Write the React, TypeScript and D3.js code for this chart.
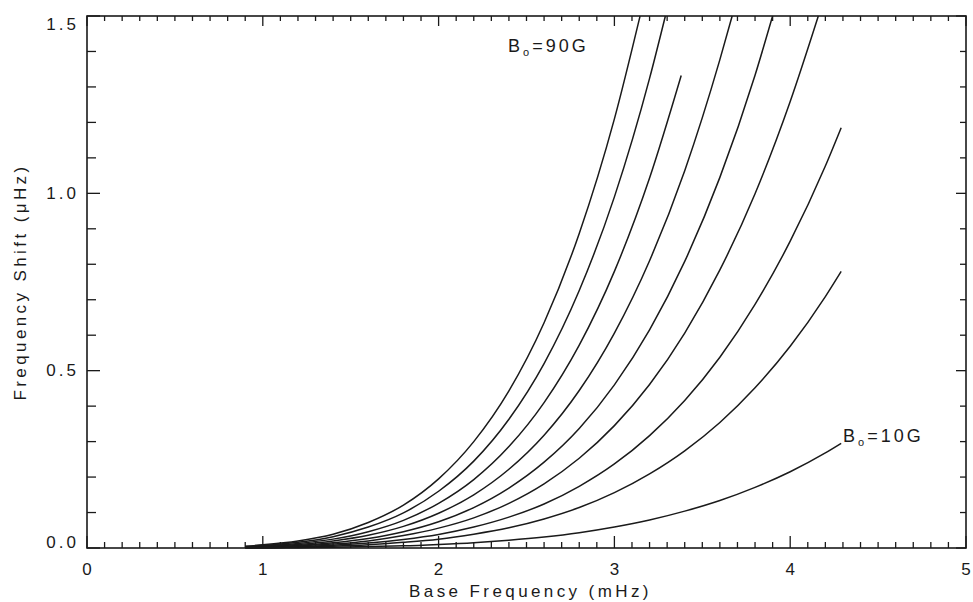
import React from "react";
import * as d3 from "d3";

const fieldLabels = ["90G", "80G", "70G", "60G", "50G", "40G", "30G", "20G", "10G"];
const freqGrid = [0.9, 1.0, 1.2, 1.4, 1.6, 1.8, 2.0, 2.2, 2.4, 2.6, 2.8, 3.0, 3.2, 3.4, 3.6, 3.8, 4.0, 4.2];

const shift90 = [0.005, 0.009, 0.02, 0.039, 0.072, 0.121, 0.195, 0.3, 0.443, 0.635, 0.887, 1.21];
const shift80 = [0.004, 0.007, 0.016, 0.032, 0.059, 0.099, 0.16, 0.245, 0.363, 0.52, 0.726, 0.99, 1.324];
const shift70 = [0.003, 0.006, 0.013, 0.025, 0.046, 0.078, 0.126, 0.193, 0.286, 0.41, 0.572, 0.78, 1.043];
const shift60 = [0.003, 0.004, 0.01, 0.02, 0.036, 0.061, 0.098, 0.15, 0.222, 0.318, 0.444, 0.606, 0.81, 1.064, 1.377];
const shift50 = [0.002, 0.003, 0.007, 0.015, 0.027, 0.046, 0.074, 0.114, 0.169, 0.242, 0.337, 0.46, 0.615, 0.808, 1.045, 1.333];
const shift40 = [0.002, 0.002, 0.006, 0.011, 0.02, 0.035, 0.056, 0.085, 0.126, 0.181, 0.253, 0.345, 0.461, 0.606, 0.784, 0.999, 1.259];
const shift30 = [0.001, 0.002, 0.004, 0.008, 0.014, 0.024, 0.038, 0.059, 0.087, 0.124, 0.174, 0.237, 0.317, 0.416, 0.538, 0.687, 0.865, 1.077];
const shift20 = [0.001, 0.001, 0.003, 0.005, 0.009, 0.016, 0.025, 0.039, 0.057, 0.082, 0.114, 0.156, 0.209, 0.274, 0.354, 0.452, 0.569, 0.709];
const shift10 = [0.0, 0.0, 0.001, 0.002, 0.004, 0.006, 0.01, 0.015, 0.022, 0.031, 0.043, 0.059, 0.079, 0.104, 0.134, 0.171, 0.215, 0.268];

const endFreq = [3.146, 3.29, 3.38, 3.67, 3.9, 4.16, 4.29, 4.29, 4.29];
const endShift = [1.5, 1.5, 1.332, 1.5, 1.5, 1.5, 1.185, 0.78, 0.295];

const xMajorTicks = [0, 1, 2, 3, 4, 5];
const yMajorTicks = [0, 0.5, 1.0, 1.5];
const yTickLabels = ["0.0", "0.5", "1.0", "1.5"];

const allShifts = [shift90, shift80, shift70, shift60, shift50, shift40, shift30, shift20, shift10];

const W = 973;
const H = 602;
const L = 87, R = 966, T = 16, B = 548;

export default function App() {
  const x = d3.scaleLinear().domain([0, 5]).range([L, R]);
  const y = d3.scaleLinear().domain([0, 1.5]).range([B, T]);
  const line = d3
    .line<[number, number]>()
    .x((d) => x(d[0]))
    .y((d) => y(d[1]))
    .curve(d3.curveMonotoneX);

  const series = allShifts.map((vals, i) => {
    const pts: [number, number][] = vals.map((v, j) => [freqGrid[j], v]);
    pts.push([endFreq[i], endShift[i]]);
    return pts;
  });

  const xMinor = d3.range(0, 51).map((k) => k / 10).filter((v) => Math.abs(v - Math.round(v)) > 1e-6);
  const yMinor = d3.range(0, 16).map((k) => k / 10).filter((v) => Math.abs(v * 2 - Math.round(v * 2)) > 1e-6);

  const font = "'Liberation Sans', Arial, Helvetica, sans-serif";
  const ink = "#1a1a1a";
  const ls = 3;

  const yLabelY = (v: number) => {
    if (v === 1.5) return y(v) + 8;
    if (v === 0) return y(v) - 6;
    return y(v);
  };

  return (
    <svg
      width={W}
      height={H}
      style={{ position: "fixed", left: 0, top: 0, background: "#fff" }}
      fontFamily={font}
    >
      <rect x={0} y={0} width={W} height={H} fill="#fff" />
      {/* curves */}
      <g fill="none" stroke={ink} strokeWidth={1.5}>
        {series.map((pts, i) => (
          <path key={fieldLabels[i]} d={line(pts) || ""} />
        ))}
      </g>
      {/* frame */}
      <rect x={L} y={T} width={R - L} height={B - T} fill="none" stroke={ink} strokeWidth={1.6} />
      {/* ticks */}
      <g stroke={ink} strokeWidth={1.3}>
        {xMajorTicks.map((v) => (
          <g key={"xM" + v}>
            <line x1={x(v)} x2={x(v)} y1={B} y2={B - 12} />
            <line x1={x(v)} x2={x(v)} y1={T} y2={T + 10} />
          </g>
        ))}
        {xMinor.map((v) => (
          <g key={"xm" + v}>
            <line x1={x(v)} x2={x(v)} y1={B} y2={B - 6} />
            <line x1={x(v)} x2={x(v)} y1={T} y2={T + 5} />
          </g>
        ))}
        {yMajorTicks.map((v) => (
          <g key={"yM" + v}>
            <line x1={L} x2={L + 13} y1={y(v)} y2={y(v)} />
            <line x1={R} x2={R - 10} y1={y(v)} y2={y(v)} />
          </g>
        ))}
        {yMinor.map((v) => (
          <g key={"ym" + v}>
            <line x1={L} x2={L + 9} y1={y(v)} y2={y(v)} />
            <line x1={R} x2={R - 6} y1={y(v)} y2={y(v)} />
          </g>
        ))}
      </g>
      {/* tick labels */}
      <g fill={ink} fontSize={17} letterSpacing={ls}>
        {xMajorTicks.map((v) => (
          <text key={"xl" + v} x={x(v) + ls / 2} y={575} textAnchor="middle">
            {String(v)}
          </text>
        ))}
        {yMajorTicks.map((v, i) => (
          <text key={"yl" + v} x={L - 8} y={yLabelY(v)} textAnchor="end" dominantBaseline="central">
            {yTickLabels[i]}
          </text>
        ))}
      </g>
      {/* axis titles */}
      <text
        x={(L + R) / 2 + 4}
        y={597}
        textAnchor="middle"
        fontSize={17}
        letterSpacing={3.4}
        fill={ink}
      >
        Base Frequency (mHz)
      </text>
      <text
        transform={`translate(26, ${(T + B) / 2}) rotate(-90)`}
        textAnchor="middle"
        fontSize={17}
        letterSpacing={3.4}
        fill={ink}
      >
        Frequency Shift (μHz)
      </text>
      {/* curve labels */}
      <text x={508} y={52} fontSize={18} fill={ink} letterSpacing={3}>
        B<tspan fontSize={11} dy={4}>o</tspan>
        <tspan dy={-4}>=90G</tspan>
      </text>
      <text x={843} y={442} fontSize={18} fill={ink} letterSpacing={3}>
        B<tspan fontSize={11} dy={4}>o</tspan>
        <tspan dy={-4}>=10G</tspan>
      </text>
    </svg>
  );
}
